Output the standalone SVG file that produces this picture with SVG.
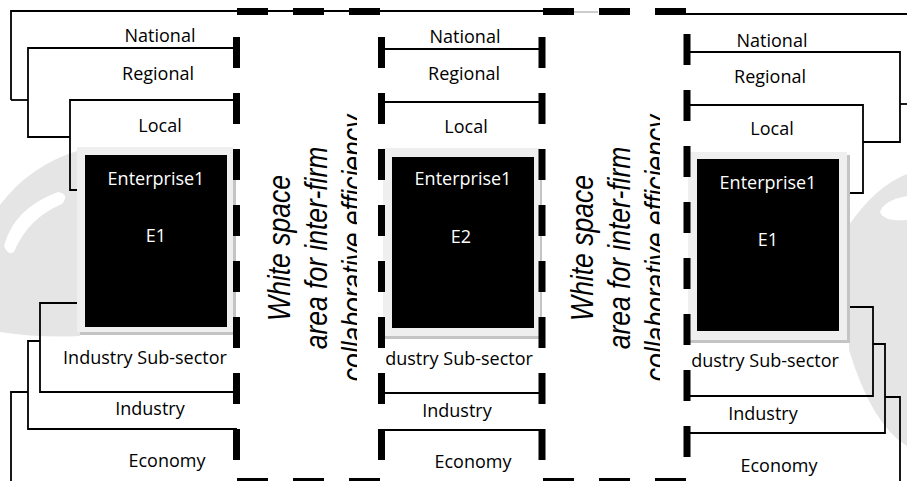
<svg xmlns="http://www.w3.org/2000/svg" width="907" height="481" viewBox="0 0 907 481">
  <style>
    .ln { fill: none; stroke: #000; stroke-width: 1.8; }
    .dash { fill: none; stroke: #000; stroke-width: 7; stroke-dasharray: 31 25; }
    .lbl { font-family: "Open Sans", "Liberation Sans", sans-serif; font-size: 18px; fill: #000; text-anchor: middle; }
    .ent { font-family: "Open Sans", "Liberation Sans", sans-serif; font-size: 18px; fill: #fff; text-anchor: middle; }
    .ws { font-family: "Liberation Sans", Arial, sans-serif; font-size: 26.5px; font-style: italic; fill: #000; text-anchor: middle; }
    .frame { fill: #efefef; }
    .shadow { fill: #c4c4c4; }
    .wm { fill: #e5e5e5; }
  </style>
  <defs>
    <clipPath id="clipMidSub"><rect x="384" y="340" width="160" height="40"/></clipPath>
    <clipPath id="clipRightSub"><rect x="690" y="340" width="160" height="40"/></clipPath>
    <clipPath id="clipWsLeft"><rect x="250" y="100" width="107" height="300"/></clipPath>
    <clipPath id="clipWsRight"><rect x="553" y="100" width="107" height="300"/></clipPath>
  </defs>

  <rect width="907" height="481" fill="#fff"/>

  <!-- faint background emblem shapes -->
  <g id="emblem">
    <path class="wm" d="M0,205 Q30,165 80,150 L80,336 Q40,338 0,332 Z"/>
    <path fill="#fff" d="M4,246 Q14,208 58,192 Q70,194 62,204 Q28,218 14,252 Q8,256 4,246 Z"/>
    <path class="wm" d="M849,225 Q876,186 907,174 L907,446 Q872,425 849,350 Z"/>
    <path fill="#fff" d="M907,196 Q884,200 880,212 Q884,222 907,220 Z"/>
  </g>

  <!-- bracket connectors -->
  <g id="connectors">
    <!-- outer top line -->
    <path class="ln" d="M11,100 V11 H543"/>
    <path d="M543,12 H598" stroke="#999" stroke-width="1" fill="none"/>
    <path class="ln" d="M686,14 H907"/>
    <!-- left upper brackets -->
    <path class="ln" d="M11,100 H28"/>
    <path class="ln" d="M237,48 H28 V137 H70"/>
    <path class="ln" d="M237,100 H70 V190 H78"/>
    <!-- left lower brackets -->
    <path class="ln" d="M78,303 H40 V392 H237"/>
    <path class="ln" d="M40,341 H28 V429 H237"/>
    <path class="ln" d="M28,392 H11 V490"/>
    <!-- middle level lines -->
    <path class="ln" d="M382,49 H542"/>
    <path class="ln" d="M382,102 H542"/>
    <path class="ln" d="M382,393 H542"/>
    <path class="ln" d="M382,430 H542"/>
    <!-- right upper brackets -->
    <path class="ln" d="M687,52 H900 V142 H863"/>
    <path class="ln" d="M687,105 H863 V193 H846"/>
    <path class="ln" d="M900,104 H910"/>
    <!-- right lower brackets -->
    <path class="ln" d="M846,307 H873 V396 H687"/>
    <path class="ln" d="M873,344 H885 V433 H687"/>
    <path class="ln" d="M885,397 H900 V490"/>
  </g>

  <!-- enterprise nodes -->
  <g id="enterprise-left">
    <rect class="shadow" x="80" y="150" width="156" height="185"/>
    <rect class="frame" x="77" y="147" width="156" height="185"/>
    <rect x="85" y="155" width="142" height="172" fill="#000"/>
    <text class="ent" x="156" y="185">Enterprise1</text>
    <text class="ent" x="156" y="242">E1</text>
  </g>
  <g id="enterprise-middle">
    <rect class="shadow" x="385" y="151" width="157" height="188"/>
    <rect class="frame" x="383" y="148" width="157" height="188"/>
    <rect x="392" y="157" width="142" height="171" fill="#000"/>
    <text class="ent" x="463" y="185">Enterprise1</text>
    <text class="ent" x="461" y="243">E2</text>
  </g>
  <g id="enterprise-right">
    <rect class="shadow" x="690" y="155" width="160" height="188"/>
    <rect class="frame" x="688" y="152" width="159" height="188"/>
    <rect x="697" y="159" width="142" height="172" fill="#000"/>
    <text class="ent" x="768" y="189">Enterprise1</text>
    <text class="ent" x="768" y="246">E1</text>
  </g>

  <!-- dashed boundaries of the white-space areas -->
  <g id="whitespace-boundaries">
    <line class="dash" x1="236.5" y1="37" x2="236.5" y2="490"/>
    <line class="dash" x1="381.5" y1="37" x2="381.5" y2="490"/>
    <line class="dash" x1="542" y1="37" x2="542" y2="490"/>
    <line class="dash" x1="687" y1="34" x2="687" y2="490"/>
    <line class="dash" x1="237" y1="11.5" x2="382" y2="11.5"/>
    <line class="dash" x1="543" y1="11.5" x2="688" y2="11.5"/>
    <line class="dash" x1="237" y1="481.5" x2="382" y2="481.5"/>
    <line class="dash" x1="543" y1="481.5" x2="688" y2="481.5"/>
  </g>

  <!-- level labels -->
  <g id="levels-left">
    <text class="lbl" x="160" y="42">National</text>
    <text class="lbl" x="158" y="80">Regional</text>
    <text class="lbl" x="160" y="132">Local</text>
    <text class="lbl" x="145" y="364">Industry Sub-sector</text>
    <text class="lbl" x="150" y="415">Industry</text>
    <text class="lbl" x="167" y="467">Economy</text>
  </g>
  <g id="levels-middle">
    <text class="lbl" x="465" y="43">National</text>
    <text class="lbl" x="464" y="80">Regional</text>
    <text class="lbl" x="466" y="133">Local</text>
    <text class="lbl" x="451" y="365" clip-path="url(#clipMidSub)">Industry Sub-sector</text>
    <text class="lbl" x="457" y="417">Industry</text>
    <text class="lbl" x="473" y="468">Economy</text>
  </g>
  <g id="levels-right">
    <text class="lbl" x="772" y="47">National</text>
    <text class="lbl" x="770" y="83">Regional</text>
    <text class="lbl" x="772" y="135">Local</text>
    <text class="lbl" x="757" y="367" clip-path="url(#clipRightSub)">Industry Sub-sector</text>
    <text class="lbl" x="763" y="420">Industry</text>
    <text class="lbl" x="779" y="472">Economy</text>
  </g>

  <!-- white-space captions -->
  <g id="whitespace-left" clip-path="url(#clipWsLeft)">
    <g transform="translate(290,248) rotate(-90) scale(1,1.16)">
      <text class="ws" x="0" y="0">White space</text>
      <text class="ws" x="0" y="32">area for inter-firm</text>
      <text class="ws" x="0" y="64">collaborative efficiency</text>
    </g>
  </g>
  <g id="whitespace-right" clip-path="url(#clipWsRight)">
    <g transform="translate(593,248) rotate(-90) scale(1,1.16)">
      <text class="ws" x="0" y="0">White space</text>
      <text class="ws" x="0" y="32">area for inter-firm</text>
      <text class="ws" x="0" y="64">collaborative efficiency</text>
    </g>
  </g>
</svg>
